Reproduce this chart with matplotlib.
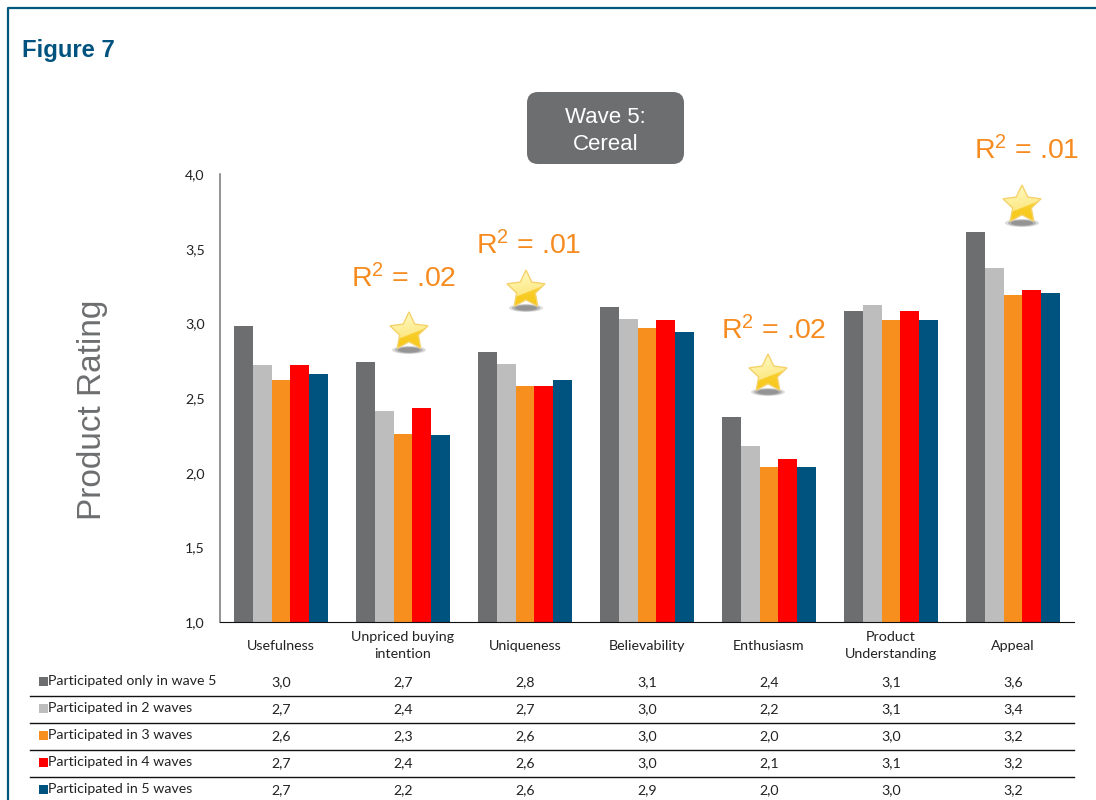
import numpy as np
import matplotlib
matplotlib.use("Agg")
import matplotlib.pyplot as plt
from matplotlib.patches import Ellipse, FancyBboxPatch, Polygon

# Product ratings per attribute
categories = ["Usefulness", "Unpriced buying\nintention", "Uniqueness", "Believability",
              "Enthusiasm", "Product\nUnderstanding", "Appeal"]
only_wave_5 = [2.98, 2.74, 2.81, 3.11, 2.37, 3.08, 3.61]
two_waves = [2.72, 2.41, 2.73, 3.03, 2.18, 3.12, 3.37]
three_waves = [2.62, 2.26, 2.58, 2.97, 2.04, 3.02, 3.19]
four_waves = [2.72, 2.43, 2.58, 3.02, 2.09, 3.08, 3.22]
five_waves = [2.66, 2.25, 2.62, 2.94, 2.04, 3.02, 3.20]
series_labels = ["Participated only in wave 5", "Participated in 2 waves", "Participated in 3 waves",
                 "Participated in 4 waves", "Participated in 5 waves"]
series_colors = ["#6d6e70", "#bdbdbd", "#f78f1e", "#ff0000", "#00527f"]
y_ticks = [1.0, 1.5, 2.0, 2.5, 3.0, 3.5, 4.0]

# Text shown above the significant attributes
r2_labels = ["R$^{2}$ = .02", "R$^{2}$ = .01", "R$^{2}$ = .02", "R$^{2}$ = .01"]

series = [only_wave_5, two_waves, three_waves, four_waves, five_waves]
W, H = 1096, 800
SANS = "Liberation Sans"
SMALL = "Lato"
BLUE = "#00527f"
ORANGE = "#f68b1f"
INK = "#222222"

plt.rcParams["mathtext.default"] = "regular"


def comma(v):
    return f"{v:.1f}".replace(".", ",")


def star_points(cx, cy, r_out, r_in):
    angles = np.deg2rad(-90 + 36 * np.arange(10))
    radii = np.where(np.arange(10) % 2 == 0, r_out, r_in)
    return np.column_stack([cx + radii * np.cos(angles), cy + radii * np.sin(angles)])


def draw_star(ax, cx, cy):
    # soft shadow under the star
    for w, alpha in ((34, 0.25), (28, 0.4), (22, 0.5)):
        ax.add_patch(Ellipse((cx, cy + 18), w, 8 * w / 34, color="#777777", alpha=alpha, lw=0, zorder=4))
    outline = star_points(cx, cy, 20, 9.8)
    # pale top, gold swoosh across the lower part
    yy, xx = np.mgrid[0:1:64j, 0:1:64j]
    t = np.clip(0.55 * yy + 0.1 * xx - 0.05, 0, 1)
    t = np.where(yy > 0.82 - 0.42 * xx, 0.7 + 0.3 * yy, t)[..., None]
    colors = np.array([1.0, 0.98, 0.76]) * (1 - t) + np.array([0.97, 0.78, 0.08]) * t
    img = ax.imshow(colors, extent=(cx - 21, cx + 21, cy + 18, cy - 21),
                    aspect="auto", zorder=5, interpolation="bilinear")
    clip = Polygon(outline, closed=True, transform=ax.transData, facecolor="none",
                   edgecolor="#f5d26a", lw=1.0, zorder=6)
    ax.add_patch(clip)
    img.set_clip_path(clip)


fig = plt.figure(figsize=(W / 100, H / 100), dpi=100)

# Main bar chart, placed in pixel terms
left, right, top, bottom = 220, 1074, 174, 622
ax = fig.add_axes([left / W, 1 - bottom / H, (right - left) / W, (bottom - top) / H])
x = np.arange(len(categories))
bar_w = 18.8 / 122
for i, (values, color) in enumerate(zip(series, series_colors)):
    ax.bar(x + (i - 2) * bar_w, values, bar_w, color=color, linewidth=0, zorder=2)

ax.set_xlim(-0.5, 6.5)
ax.set_ylim(1, 4)
ax.set_yticks(y_ticks)
ax.set_yticklabels([comma(t) for t in y_ticks], fontfamily=SMALL, fontsize=10.2, color=INK)
ax.set_xticks(x)
ax.set_xticklabels(categories, fontfamily=SMALL, fontsize=10.3, color=INK, linespacing=1.5, va="center")
ax.tick_params(axis="x", length=0, pad=17)
ax.tick_params(axis="y", length=0, pad=11)
for s in ("top", "right"):
    ax.spines[s].set_visible(False)
ax.spines["bottom"].set_color("#111111")
ax.spines["left"].set_color("#777777")
ax.spines["left"].set_linewidth(1.1)

# Overlay in image pixel coordinates for everything around the chart
ov = fig.add_axes([0, 0, 1, 1], facecolor="none", zorder=5)
ov.set_xlim(0, W)
ov.set_ylim(H, 0)
ov.axis("off")

# Frame on the top and left edges
ov.plot([7.5, 7.5, W], [H, 8, 8], color="#00587f", lw=1.6, zorder=1)

ov.text(22, 50, "Figure 7", fontfamily=SANS, fontweight="bold", fontsize=17.2, color=BLUE, va="center")

ov.add_patch(FancyBboxPatch((527, 92), 157, 72, boxstyle="round,pad=0,rounding_size=11", lw=0,
                            facecolor="#6d6e70", zorder=2))
ov.text(605.5, 131, "Wave 5:\nCereal", fontfamily=SANS, fontsize=16, color="white", ha="center", va="center",
        linespacing=1.4, zorder=3)

ov.text(92, 410, "Product Rating", fontfamily=SANS, fontsize=24, color="#6d6e70", rotation=90,
        ha="center", va="center")

# R2 callouts with their stars, in pixel positions above the bars
r2_text_pos = [(404, 279), (529, 246), (774, 331), (1027, 151)]
star_pos = [(409, 332), (526, 290), (768, 374), (1022, 205)]
for label, (tx, ty), (sx, sy) in zip(r2_labels, r2_text_pos, star_pos):
    ov.text(tx, ty, label, fontfamily=SANS, fontsize=20.5, color=ORANGE, ha="center", va="center")
    draw_star(ov, sx, sy)
ov.set_xlim(0, W)
ov.set_ylim(H, 0)

# Data table under the chart
row_y = [681, 708, 735, 762, 789]
centers = [left + (i + 0.5) * 122 for i in range(len(categories))]
for row, y in enumerate(row_y):
    ov.add_patch(plt.Rectangle((39, y - 4.5), 9, 9, facecolor=series_colors[row], lw=0))
    ov.text(48, y, series_labels[row], fontfamily=SMALL, fontsize=10.2, color=INK, va="center")
    for cx, v in zip(centers, series[row]):
        ov.text(cx, y + 1, comma(v), fontfamily=SMALL, fontsize=10.2, color=INK, ha="center", va="center")
    if row < len(row_y) - 1:
        ov.plot([30, 1074], [y + 15, y + 15], color="#111111", lw=1.0)

fig.savefig("out.png", dpi=100)
